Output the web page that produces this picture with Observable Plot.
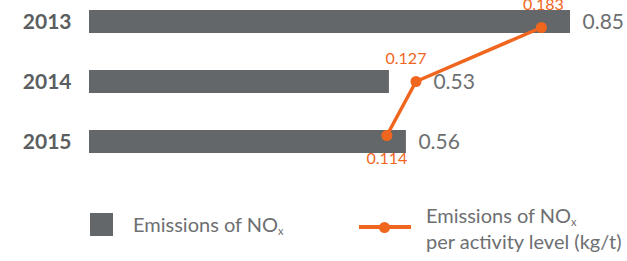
<!DOCTYPE html>
<html>
<head>
<meta charset="utf-8">
<script src="https://cdn.jsdelivr.net/npm/d3@7"></script>
<script src="https://cdn.jsdelivr.net/npm/@observablehq/plot@0.6"></script>
<style>
  body { margin: 0; background: #fff; font-family: Lato, sans-serif; }
  #wrap { position: relative; width: 627px; height: 261px; overflow: hidden; background: #fff; }
  #bars, #line { position: absolute; left: 0; top: 0; }
  .lg { position: absolute; color: #6d6f71; font-size: 20px; font-family: Lato, sans-serif; white-space: nowrap; }
  .lg sub { font-size: 11px; vertical-align: -3px; line-height: 0; }
</style>
</head>
<body>
<div id="wrap">
  <div id="bars"></div>
  <div id="line"></div>
  <div class="lg" style="left:90px;top:213px;width:23px;height:23px;background:#63676a;"></div>
  <div class="lg" style="left:133px;top:212px;line-height:24px;">Emissions of NO<sub>x</sub></div>
  <div class="lg" style="left:359px;top:225px;width:52px;height:4px;background:#f0661e;"></div>
  <div class="lg" style="left:379px;top:222px;width:11px;height:11px;border-radius:50%;background:#f0661e;"></div>
  <div class="lg" style="left:426px;top:202px;line-height:26px;">Emissions of NO<sub>x</sub><br>per activity level (kg/t)</div>
</div>
<script>
const years = ["2013", "2014", "2015"];
const emissions = [0.85, 0.53, 0.56];
const emissionLabels = ["0.85", "0.53", "0.56"];
const intensity = [0.183, 0.127, 0.114];
const intensityLabels = ["0.183", "0.127", "0.114"];

const barData = years.map((y, i) => ({year: y, v: emissions[i], label: emissionLabels[i]}));
const lineData = years.map((y, i) => ({year: y, v: intensity[i], label: intensityLabels[i]}));

const GRAY = "#63676a";
const ORANGE = "#f0661e";
const yScale = {domain: years, paddingInner: 0.62, paddingOuter: 0.1488, align: 0.5, label: null};

const bars = Plot.plot({
  width: 627, height: 180,
  marginTop: 0, marginBottom: 18, marginLeft: 89, marginRight: 0,
  style: {fontFamily: "Lato, sans-serif", background: "transparent", overflow: "visible"},
  x: {domain: [0, 0.85], range: [89, 570], axis: null},
  y: yScale,
  marks: [
    Plot.barX(barData, {x: "v", y: "year", fill: GRAY}),
    Plot.axisY({tickSize: 0, tickPadding: 18, fontSize: 21, fontWeight: 700, color: "#5b5e60", label: null}),
    Plot.text(barData.filter(d => d.year !== "2014"), {x: "v", y: "year", text: "label", textAnchor: "start", dx: 12, fontSize: 21, fill: "#6d6f71"}),
    Plot.text(barData.filter(d => d.year === "2014"), {x: "v", y: "year", text: "label", textAnchor: "start", dx: 44, fontSize: 21, fill: "#6d6f71"})
  ]
});
document.getElementById("bars").append(bars);

const line = Plot.plot({
  width: 627, height: 180,
  marginTop: 0, marginBottom: 18, marginLeft: 89, marginRight: 0,
  style: {fontFamily: "Lato, sans-serif", background: "transparent", overflow: "visible"},
  x: {domain: [0.1, 0.2], range: [355, 579], axis: null},
  y: {...yScale, axis: null},
  marks: [
    Plot.line(lineData, {x: "v", y: "year", stroke: ORANGE, strokeWidth: 3.5}),
    Plot.dot(lineData, {x: "v", y: "year", r: 5.5, fill: ORANGE}),
    Plot.text(lineData.filter(d => d.year === "2013"), {x: "v", y: "year", text: "label", dy: -23, dx: 2, fontSize: 16, fill: ORANGE}),
    Plot.text(lineData.filter(d => d.year === "2014"), {x: "v", y: "year", text: "label", dy: -23, dx: -10, fontSize: 16, fill: ORANGE}),
    Plot.text(lineData.filter(d => d.year === "2015"), {x: "v", y: "year", text: "label", dy: 23, dx: 0, fontSize: 16, fill: ORANGE})
  ]
});
document.getElementById("line").append(line);
</script>
</body>
</html>
